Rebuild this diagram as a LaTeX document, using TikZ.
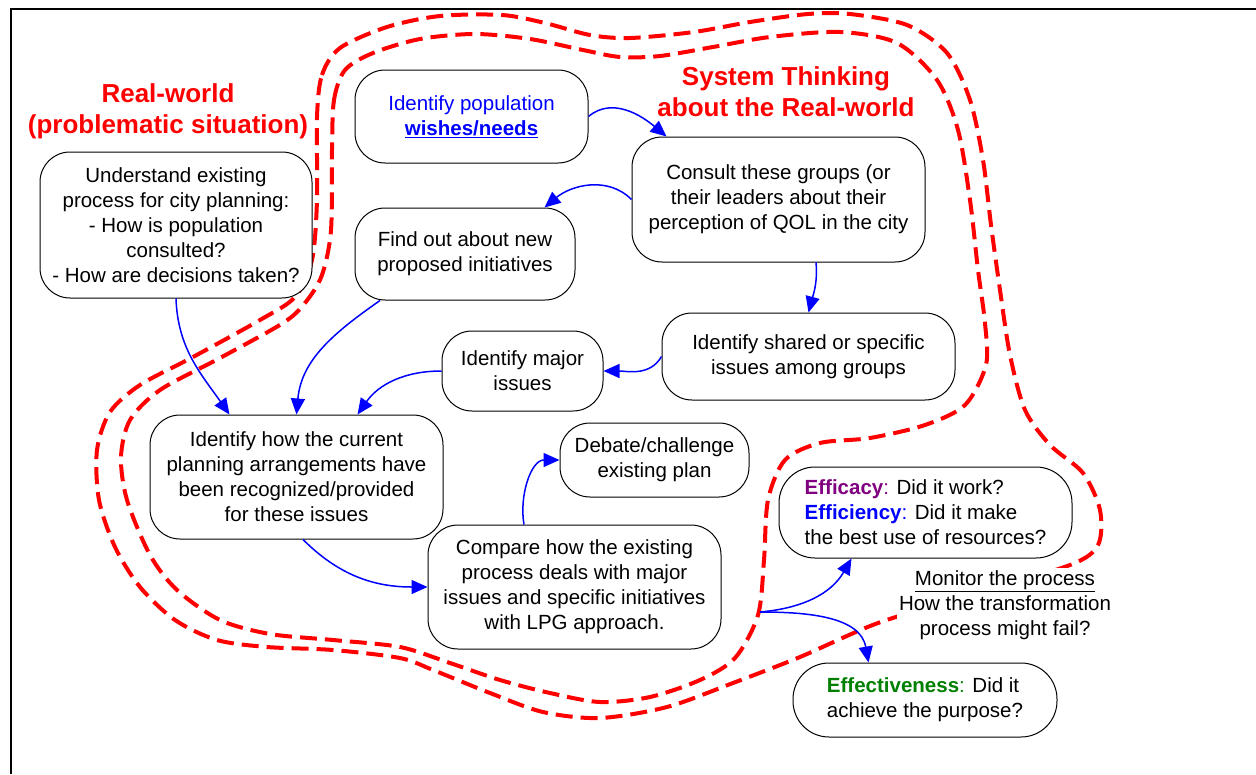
\documentclass[tikz,border=0pt]{standalone}
\usepackage{fontspec}
\setmainfont{Liberation Sans}
\usepackage{xcolor}
\usetikzlibrary{arrows.meta}
\definecolor{effpurple}{RGB}{128,0,128}
\definecolor{effgreen}{RGB}{0,128,0}
\newcommand{\boxfont}{\fontsize{20.5}{25}\selectfont}
\newcommand{\titlefont}{\fontsize{26}{31}\selectfont\bfseries}

\begin{document}
\begin{tikzpicture}[
  x=1pt, y=1pt,
  box/.style={draw, line width=1pt, rounded corners=30pt, align=center, font=\boxfont,
              fill=white, inner sep=0pt},
  title/.style={text=red, font=\titlefont, align=center},
  rwline/.style={red, line width=4pt, dash pattern=on 17pt off 8pt},
  arr/.style={-{Triangle[length=16pt,width=14pt]}, blue, line width=1.5pt}]
\useasboundingbox (0,0) rectangle (1256,-774);
\draw[line width=2pt] (11,-774) |- (1256,-9);

% the two dashed boundaries
\draw[rwline] plot[smooth cycle] coordinates {
  (317,-117) (322,-75) (340,-48) (387,-27) (440,-16) (502,-15) (545,-23)
  (590,-35) (630,-38) (694,-32) (750,-22) (808,-14) (850,-14) (907,-25)
  (947,-53) (970,-100) (983,-160) (991,-225) (1000,-290) (1010,-355)
  (1025,-410) (1050,-445) (1083,-473) (1100,-510) (1098,-545) (1070,-565)
  (970,-595) (878,-623) (800,-657) (733,-683) (667,-707) (600,-718)
  (543,-712) (490,-693) (433,-670) (400,-658) (333,-650) (267,-647)
  (217,-640) (175,-620) (140,-587) (115,-547) (99,-500) (97,-450)
  (110,-412) (140,-385) (193,-357) (260,-320) (295,-297) (312,-260)
  (317,-200)};
\draw[rwline] plot[smooth cycle] coordinates {
  (332,-150) (334,-100) (345,-70) (373,-53) (420,-39) (475,-34) (530,-39)
  (583,-50) (620,-57) (660,-56) (713,-47) (770,-37) (840,-32) (897,-43)
  (937,-80) (958,-130) (970,-200) (978,-270) (985,-323) (986,-365)
  (965,-405) (925,-425) (870,-438) (820,-443) (785,-460) (768,-500)
  (764,-560) (758,-615) (735,-658) (700,-680) (650,-697) (600,-702)
  (550,-693) (500,-680) (450,-663) (400,-647) (333,-640) (270,-634)
  (220,-620) (177,-590) (150,-555) (127,-500) (121,-457) (130,-420)
  (160,-390) (220,-358) (283,-323) (305,-303) (322,-275) (331,-230)};

\node[title] (realtitle) at (168,-111) {Real-world\\(problematic situation)};
\node[title] (systitle) at (786,-92) {System Thinking\\about the Real-world};

\node[box, minimum width=272pt, minimum height=146pt] (understand) at (176,-225)
  {Understand existing\\process for city planning:\\- How is population\\consulted?\\- How are decisions taken?};
\node[box, text=blue, minimum width=233pt, minimum height=93pt] (wishes) at (471.5,-116.5)
  {Identify population\\\underline{\textbf{wishes/needs}}};
\node[box, minimum width=293pt, minimum height=125pt] (consult) at (778.5,-199.5)
  {Consult these groups (or\\their leaders about their\\perception of QOL in the city};
\node[box, minimum width=220pt, minimum height=92pt] (findout) at (465,-254)
  {Find out about new\\proposed initiatives};
\node[box, minimum width=293pt, minimum height=87pt] (shared) at (808.5,-356.5)
  {Identify shared or specific\\issues among groups};
\node[box, minimum width=161pt, minimum height=80pt] (major) at (522.5,-371)
  {Identify major\\issues};
\node[box, minimum width=293pt, minimum height=124pt] (current) at (296.5,-477)
  {Identify how the current\\planning arrangements have\\been recognized/provided\\for these issues};
\node[box, minimum width=189pt, minimum height=74pt] (debate) at (654.5,-460)
  {Debate/challenge\\existing plan};
\node[box, minimum width=293pt, minimum height=124pt] (compare) at (574.5,-587)
  {Compare how the existing\\process deals with major\\issues and specific initiatives\\with LPG approach.};
\node[box, align=left, rounded corners=36pt, minimum width=293pt, minimum height=91pt] (efficacy) at (925.5,-512.5)
  {\textcolor{effpurple}{\textbf{Efficacy}:} Did it work?\\\textcolor{blue}{\textbf{Efficiency}:} Did it make\\the best use of resources?};
\node[box, align=left, rounded corners=36pt, minimum width=264pt, minimum height=74pt] (effective) at (925,-700)
  {\textcolor{effgreen}{\textbf{Effectiveness}:} Did it\\achieve the purpose?};
\node[fill=white, font=\boxfont, align=center, inner sep=2pt] (monitor) at (1005,-605)
  {\underline{Monitor the process}\\How the transformation\\process might fail?};
\coordinate (fork) at (760,-612);

\draw[arr] (wishes.east) to[out=40, in=140] ([xshift=35pt]consult.north west);
\draw[arr] (consult.west) to[out=135, in=40] ([xshift=-31pt]findout.north east);
\draw[arr] ([xshift=37.5pt]consult.south) to[out=-85, in=75] (shared.north);
\draw[arr] (shared.west) to[out=-120, in=0] (major.east);
\draw[arr] (major.west) to[out=180, in=55] ([xshift=-86pt]current.north east);
\draw[arr] ([xshift=-85pt]findout.south) to[out=-145, in=85] (current.north);
\draw[arr] (understand.south) to[out=-88, in=125] ([xshift=80pt]current.north west);
\draw[arr] ([xshift=6.5pt]current.south) to[out=-45, in=180] (compare.west);
\draw[arr] ([xshift=-50.5pt]compare.north) to[out=100, in=180] (debate.west);
\draw[arr] (fork) to[out=5, in=-120] ([xshift=73pt]efficacy.south west);
\draw[arr] (fork) to[out=0, in=100] ([xshift=76pt]effective.north west);
\end{tikzpicture}
\end{document}
